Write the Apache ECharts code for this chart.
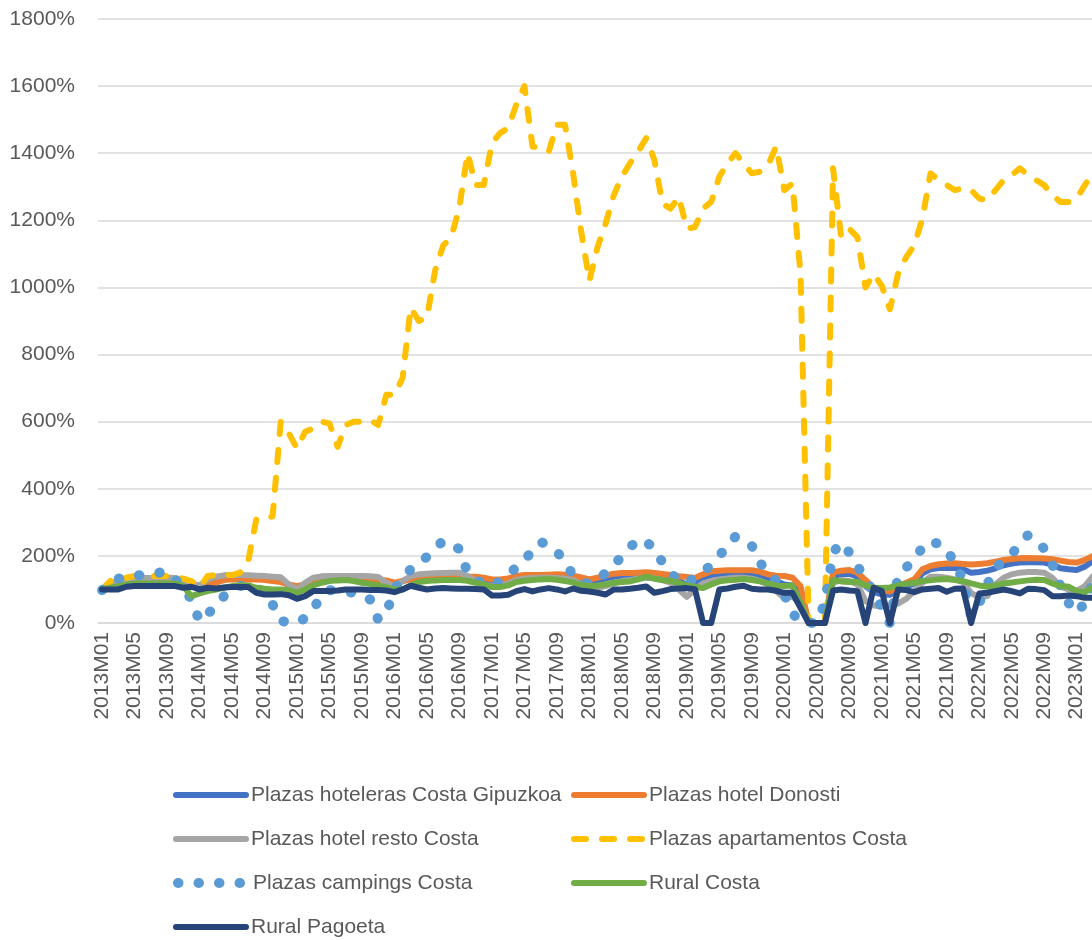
<!DOCTYPE html>
<html>
<head>
<meta charset="utf-8">
<script src="https://cdn.jsdelivr.net/npm/echarts@6/dist/echarts.min.js"></script>
<style>
  html, body { margin: 0; padding: 0; background: #fff; }
  #chart { width: 1092px; height: 940px; }
</style>
</head>
<body>
<div id="chart"></div>
<script>
// months 2013M01 .. 2023M03
const months = [];
for (let y = 2013; y <= 2023; y++) {
  for (let m = 1; m <= 12; m++) {
    if (y === 2023 && m > 3) break;
    months.push(y + "M" + String(m).padStart(2, "0"));
  }
}

const costaGipuzkoa = [
  102, 115, 125, 128, 131, 131, 132, 133, 133, 131, 126, 117,
  110, 118, 126, 132, 134, 134, 134, 133, 131, 128, 125, 113,
  106, 116, 126, 131, 133, 133, 133, 133, 133, 132, 130, 124,
  115, 125, 133, 136, 137, 138, 138, 139, 139, 138, 133, 127,
  122, 122, 127, 135, 139, 139, 140, 140, 141, 140, 136, 127,
  117, 125, 133, 138, 141, 142, 144, 146, 144, 140, 135, 125,
  115, 122, 135, 143, 146, 148, 149, 149, 148, 143, 135, 125,
  115, 112, 95, 0, 0, 0, 140, 146, 147, 138, 110, 92,
  85, 84, 98, 108, 118, 148, 160, 164, 165, 164, 160, 150,
  152, 156, 163, 172, 177, 180, 181, 181, 180, 174, 163, 160,
  158, 168, 185
];
const hotelDonosti = [
  102, 115, 125, 128, 130, 130, 132, 132, 132, 130, 125, 118,
  110, 112, 120, 128, 130, 130, 130, 130, 128, 125, 122, 115,
  110, 115, 122, 128, 130, 130, 130, 130, 130, 130, 128, 127,
  120, 125, 130, 132, 133, 134, 134, 134, 135, 138, 138, 135,
  130, 130, 133, 140, 143, 143, 143, 144, 145, 144, 141, 136,
  130, 135, 142, 147, 149, 149, 150, 151, 149, 146, 143, 139,
  137, 134, 145, 154, 156, 157, 157, 157, 157, 153, 145, 141,
  140, 135, 110, 0, 0, 0, 150, 156, 158, 150, 128, 105,
  98, 94, 110, 120, 130, 160, 170, 175, 177, 178, 176, 174,
  176, 178, 183, 188, 191, 193, 194, 193, 192, 190, 186, 182,
  180, 188, 200
];
const hotelResto = [
  100, 115, 125, 130, 133, 134, 134, 135, 135, 134, 128, 115,
  112, 130, 138, 142, 143, 143, 142, 141, 140, 138, 136, 115,
  100, 120, 135, 139, 140, 140, 140, 140, 140, 139, 137, 120,
  108, 125, 140, 145, 147, 148, 149, 150, 150, 140, 125, 115,
  110, 110, 118, 128, 132, 134, 135, 135, 134, 132, 128, 115,
  95, 105, 110, 118, 125, 128, 132, 135, 133, 128, 120, 100,
  78, 100, 118, 125, 130, 133, 135, 135, 132, 125, 115, 95,
  75, 78, 60, 0, 0, 0, 120, 128, 125, 115, 65, 52,
  50, 52, 58, 72, 95, 120, 138, 138, 135, 130, 122, 90,
  75, 80, 115, 135, 145, 150, 152, 152, 150, 135, 108, 100,
  96, 110, 140
];
const apartamentos = [
  100, 125, 130, 135, 140, 140, 140, 140, 140, 138, 132, 125,
  105, 140, 143, 143, 143, 150, 185, 310, 310, 318, 600, 565,
  520, 570, 580, 600, 595, 525, 590, 600, 600, 605, 590, 680,
  680, 730, 940, 900, 910, 1050, 1125, 1150, 1240, 1400, 1305, 1305,
  1430, 1460, 1475, 1545, 1600, 1420, 1415, 1405, 1485, 1485, 1340, 1165,
  1020, 1120, 1190, 1275, 1330, 1370, 1405, 1445, 1380, 1250, 1235, 1270,
  1175, 1180, 1235, 1255, 1330, 1370, 1400, 1370, 1340, 1345, 1365, 1420,
  1290, 1310, 1040, 0, 0, 0, 1355, 1150, 1175, 1150, 1000, 1040,
  1005, 935, 1040, 1090, 1125, 1205, 1340, 1320, 1305, 1290, 1295, 1290,
  1265, 1260, 1290, 1320, 1335, 1355, 1335, 1320, 1305, 1275, 1255, 1255,
  1265, 1305, 1340
];
const campings = [
  98, 120, 132, 138, 141, 143, 146, 150, 152, 130, 105, 70,
  5, 28, 48, 80, 100, 110, 115, 108, 85, 55, 6, 2,
  0, 15, 42, 80, 98, 96, 93, 90, 85, 70, 10, 30,
  100, 135, 160, 180, 197, 222, 245, 235, 220, 150, 130, 115,
  110, 125, 145, 165, 188, 215, 242, 230, 215, 175, 145, 125,
  115, 130, 149, 175, 197, 225, 250, 240, 225, 180, 150, 125,
  120, 135, 150, 175, 200, 230, 258, 245, 230, 180, 150, 125,
  85, 30, 0, 0, 0, 60, 210, 240, 210, 170, 130, 90,
  45, 0, 140, 165, 190, 225, 245, 235, 222, 175, 130, 20,
  60, 115, 165, 185, 205, 235, 262, 240, 222, 175, 110, 60,
  30, 60, 120
];
const ruralCosta = [
  100, 105, 110, 115, 118, 118, 118, 118, 118, 118, 110, 80,
  88, 95, 100, 105, 110, 112, 112, 105, 102, 100, 100, 98,
  90, 100, 112, 120, 125, 127, 128, 125, 120, 116, 112, 106,
  100, 100, 112, 122, 125, 127, 128, 128, 128, 126, 120, 115,
  107, 107, 112, 122, 126, 128, 130, 131, 129, 125, 121, 113,
  110, 112, 115, 120, 122, 124, 130, 138, 132, 128, 125, 120,
  112, 108, 104, 115, 124, 127, 129, 131, 128, 124, 118, 111,
  110, 112, 60, 0, 0, 0, 128, 124, 122, 123, 112, 105,
  104, 106, 112, 117, 120, 125, 127, 130, 131, 128, 125, 118,
  112, 108, 112, 118, 121, 124, 127, 129, 128, 118, 110, 108,
  95, 92, 108
];
const ruralPagoeta = [
  100, 100, 100, 108, 110, 110, 110, 110, 110, 110, 105, 108,
  100, 105, 103, 106, 107, 107, 107, 90, 85, 85, 86, 83,
  72, 80, 95, 95, 95, 97, 100, 100, 100, 98, 98, 97,
  92, 100, 111, 105, 100, 103, 104, 103, 102, 102, 101, 100,
  82, 82, 84, 95, 101, 94, 100, 104, 100, 94, 103, 96,
  94, 90, 85, 100, 100, 102, 105, 109, 90, 95, 101, 103,
  104, 101, 0, 0, 100, 103, 108, 111, 102, 100, 100, 96,
  90, 90, 45, 0, 0, 0, 97, 100, 97, 95, 0, 105,
  95, 0, 100, 98, 92, 100, 102, 104, 93, 102, 103, 0,
  88, 90, 95, 100, 95, 88, 102, 101, 98, 80, 80, 82,
  80, 75, 75
];

const textColor = "#595959";
const font = "'Liberation Sans', Arial, sans-serif";

const seriesDefs = [
  { name: "Plazas hoteleras Costa Gipuzkoa", data: costaGipuzkoa, color: "#4472C4", left: 173, top: 783 },
  { name: "Plazas hotel Donosti", data: hotelDonosti, color: "#ED7D31", left: 571, top: 783 },
  { name: "Plazas hotel resto Costa", data: hotelResto, color: "#A5A5A5", left: 173, top: 827 },
  { name: "Plazas apartamentos Costa", data: apartamentos, color: "#FFC000", left: 571, top: 827, width: 6, dash: [12, 16] },
  { name: "Plazas campings Costa", data: campings, color: "#5B9BD5", left: 173, top: 871, width: 10, dash: [0.5, 20] },
  { name: "Rural Costa", data: ruralCosta, color: "#70AD47", left: 571, top: 871 },
  { name: "Rural Pagoeta", data: ruralPagoeta, color: "#264478", left: 173, top: 915 },
];

function lineStyleOf(d) {
  return {
    color: d.color,
    width: d.width || 6,
    type: d.dash || "solid",
    cap: "round",
    join: "round",
  };
}

const chart = echarts.init(document.getElementById("chart"));
chart.setOption({
  animation: false,
  backgroundColor: "#fff",
  textStyle: { fontFamily: font },
  grid: {
    left: 98,
    top: 19,
    width: 999,
    height: 604,
    containLabel: false,
    outerBoundsMode: "none",
  },
  xAxis: {
    type: "category",
    data: months,
    boundaryGap: true,
    axisTick: { show: false },
    axisLine: { show: true, lineStyle: { color: "#d9d9d9", width: 1.5 } },
    axisLabel: {
      interval: 3,
      rotate: 90,
      margin: 9,
      color: textColor,
      fontSize: 21,
      fontFamily: font,
    },
  },
  yAxis: {
    type: "value",
    min: 0,
    max: 1800,
    interval: 200,
    axisLine: { show: false },
    axisTick: { show: false },
    splitLine: { lineStyle: { color: "#d9d9d9", width: 1.5 } },
    axisLabel: {
      formatter: (v) => v + "%",
      margin: 23,
      color: textColor,
      fontSize: 21,
      fontFamily: font,
    },
  },
  legend: seriesDefs.map((d) => ({
    left: d.left,
    top: d.top,
    padding: 0,
    itemWidth: 70,
    itemHeight: 14,
    itemStyle: { opacity: 0 },
    lineStyle: lineStyleOf(d),
    textStyle: { color: textColor, fontSize: 21, lineHeight: 24, fontFamily: font },
    data: [d.name],
  })),
  series: seriesDefs.map((d) => ({
    name: d.name,
    type: "line",
    data: d.data,
    symbol: "none",
    lineStyle: lineStyleOf(d),
    itemStyle: { color: d.color },
  })),
});
</script>
</body>
</html>
